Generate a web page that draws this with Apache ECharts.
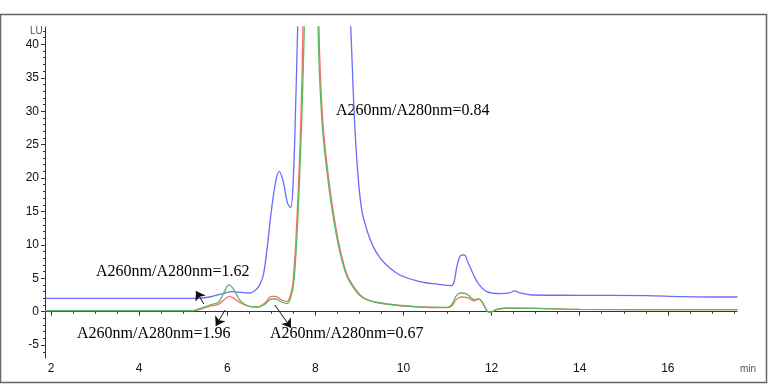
<!DOCTYPE html>
<html>
<head>
<meta charset="utf-8">
<script src="https://cdn.jsdelivr.net/npm/echarts@6/dist/echarts.min.js"></script>
<style>html,body{margin:0;padding:0;background:#fff;}#c{width:768px;height:384px;}</style>
</head>
<body>
<div id="c"></div>
<script>
// ---- data (minutes, LU) ----
const blueT = [1.87,5.3,5.6,5.9,6.1,6.3,6.5,6.65,6.75,6.82,6.9,7.0,7.1,7.18,7.27,7.37,7.44,7.5,7.55,7.6,7.7,8.1,8.6,8.8,8.89,8.99,9.1,9.39,9.84,10.37,10.8,11.09,11.15,11.22,11.3,11.38,11.45,11.57,11.7,11.89,12.2,12.4,12.52,12.65,12.9,14.0,15.5,16.3,17.0,17.58];
const blueV = [2.0,2.0,2.2,2.7,3.0,2.9,2.8,3.3,4.2,5.5,9.2,15,19.5,21,19.5,16.2,15.6,20,30,43,70,110,70,43,28.5,18.7,13.8,8.8,5.8,4.5,4.1,3.9,4.5,7.0,8.4,8.5,7.6,5.8,4.2,3.0,2.7,2.8,3.1,2.8,2.5,2.45,2.4,2.25,2.2,2.2];

const redT = [1.87,5.2,5.4,5.6,5.8,5.95,6.05,6.15,6.3,6.5,6.69,6.85,7.0,7.1,7.22,7.35,7.42,7.49,7.58,7.67,7.72,7.9,8.08,8.17,8.33,8.51,8.65,8.78,9.07,9.46,10.37,11.0,11.1,11.2,11.3,11.45,11.6,11.7,11.78,11.9,11.97,12.1,12.34,13.0,14.0,17.58];
const redV = [0.15,0.15,0.4,0.8,1.1,1.9,2.3,2.0,1.3,0.8,0.7,1.3,2.3,2.3,1.8,1.5,2.2,4.3,13.6,28.5,43,110,43,28.5,18.5,11,7,4.7,2.2,1.3,0.7,0.6,0.9,1.8,2.2,2.1,1.6,1.9,1.5,0.1,-0.1,0.3,0.5,0.5,0.35,0.3];

const greenT = [1.87,5.2,5.4,5.6,5.8,5.92,6.04,6.15,6.3,6.5,6.69,6.85,7.0,7.1,7.22,7.35,7.43,7.51,7.6,7.69,7.75,7.92,8.06,8.15,8.31,8.49,8.63,8.76,9.05,9.46,10.37,11.0,11.1,11.2,11.3,11.45,11.6,11.7,11.78,11.9,11.97,12.1,12.34,13.0,14.0,17.58];
const greenV = [0.15,0.15,0.5,1.0,1.4,2.8,4.0,3.3,1.6,0.8,0.7,1.1,1.9,1.9,1.5,1.2,1.9,4.3,13.6,28.5,43,105,43,28.5,18.5,11,7,4.7,2.2,1.3,0.7,0.65,1.1,2.4,2.8,2.6,1.8,1.9,1.5,0.1,-0.1,0.3,0.55,0.5,0.35,0.3];

// ---- axis ticks ----
const xLabels = [2,4,6,8,10,12,14,16];
const xMinor = [2,2.5,3,3.5,4,4.5,5,5.5,6,6.5,7,7.5,8,8.5,9,9.5,10,10.5,11,11.5,12,12.5,13,13.5,14,14.5,15,15.5,16,16.5,17,17.5];
const yLabels = [-5,0,5,10,15,20,25,30,35,40];
const yMinor = [-6,-5,-4,-3,-2,-1,0,1,2,3,4,5,6,7,8,9,10,11,12,13,14,15,16,17,18,19,20,21,22,23,24,25,26,27,28,29,30,31,32,33,34,35,36,37,38,39,40,41,42];

// ---- annotations (ratio text + arrow in data coords) ----
const ratioTexts = ['A260nm/A280nm=0.84','A260nm/A280nm=1.62','A260nm/A280nm=1.96','A260nm/A280nm=0.67'];
const arrows = [
  [[5.47,1.15],[5.29,3.1]],
  [[5.95,0.25],[5.74,-2.14]],
  [[7.08,1.0],[7.45,-2.44]]
];

const zip = (t, v) => t.map((x, i) => [x, v[i]]);
const X_MIN = 1.864, X_MAX = 17.57, Y_MIN = -6.93, Y_MAX = 42.6;
const axisCol = '#333';
const labelFont = {color:'#111', fontSize:12, fontFamily:'"Liberation Sans", Arial, sans-serif'};

const chart = echarts.init(document.getElementById('c'), null, {renderer:'canvas'});
chart.setOption({
  animation:false,
  backgroundColor:'#fff',
  grid:{left:45, right:31, top:27, bottom:26},
  xAxis:[
    {type:'value', min:X_MIN, max:X_MAX, position:'bottom',
     axisLine:{show:true, lineStyle:{color:axisCol, width:1}},
     axisTick:{show:true, customValues:xLabels, length:4, lineStyle:{color:axisCol}},
     axisLabel:{show:true, customValues:xLabels, margin:5, ...labelFont},
     splitLine:{show:false}},
    {type:'value', min:X_MIN, max:X_MAX, position:'bottom', offset:0,
     axisLine:{show:false},
     axisTick:{show:true, customValues:xMinor, length:2, lineStyle:{color:axisCol}},
     axisLabel:{show:false}, splitLine:{show:false}}
  ],
  yAxis:[
    {type:'value', min:Y_MIN, max:Y_MAX, position:'left',
     axisLine:{show:true, lineStyle:{color:axisCol, width:1}},
     axisTick:{show:true, customValues:yLabels, length:4, lineStyle:{color:axisCol}},
     axisLabel:{show:true, customValues:yLabels, margin:6, ...labelFont},
     splitLine:{show:false}},
    {type:'value', min:Y_MIN, max:Y_MAX, position:'left', offset:0,
     axisLine:{show:false},
     axisTick:{show:true, customValues:yMinor, length:2, lineStyle:{color:axisCol}},
     axisLabel:{show:false}, splitLine:{show:false}}
  ],
  series:[
    {type:'line', name:'blue', data:zip(blueT, blueV), smooth:0.35, showSymbol:false, clip:true,
     lineStyle:{color:'#6b6bff', width:1.3}},
    {type:'line', name:'red', data:zip(redT, redV), smooth:0.35, showSymbol:false, clip:true,
     lineStyle:{color:'#ff6e6e', width:1.3}},
    {type:'line', name:'green', data:zip(greenT, greenV), smooth:0.35, showSymbol:false, clip:true,
     lineStyle:{color:'#5cb85c', width:1.3},
     markLine:{silent:true, symbol:['none','arrow'], symbolSize:9, label:{show:false},
       lineStyle:{color:'#111', width:1, type:'solid'},
       data:arrows.map(a => [{coord:a[0]},{coord:a[1]}])}}
  ],
  graphic:[
    {type:'rect', shape:{x:0.5, y:14.5, width:766, height:368}, style:{fill:null, stroke:'#666', lineWidth:1.5}, silent:true},
    {type:'text', left:30, top:26, style:{text:'LU', fill:'#555', font:'10px "Liberation Sans", Arial, sans-serif'}},
    {type:'text', left:740, top:364, style:{text:'min', fill:'#555', font:'10px "Liberation Sans", Arial, sans-serif'}},
    {type:'text', left:336, top:103, style:{text:ratioTexts[0], fill:'#000', font:'16px "Liberation Serif", "Times New Roman", serif'}},
    {type:'text', left:96, top:264, style:{text:ratioTexts[1], fill:'#000', font:'16px "Liberation Serif", "Times New Roman", serif'}},
    {type:'text', left:77, top:326, style:{text:ratioTexts[2], fill:'#000', font:'16px "Liberation Serif", "Times New Roman", serif'}},
    {type:'text', left:270, top:326, style:{text:ratioTexts[3], fill:'#000', font:'16px "Liberation Serif", "Times New Roman", serif'}}
  ]
});
</script>
</body>
</html>
